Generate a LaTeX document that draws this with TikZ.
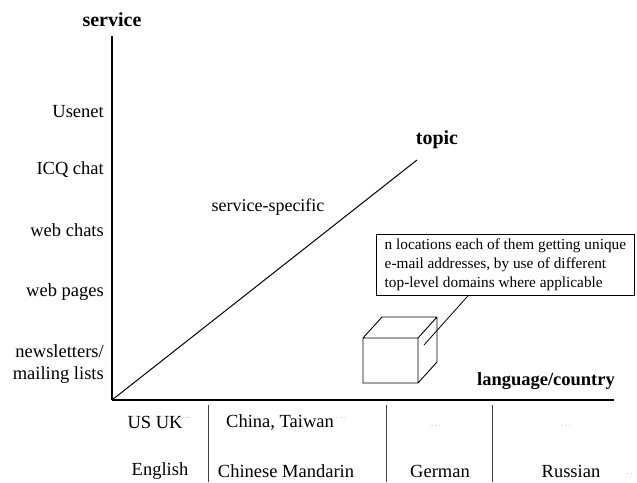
\documentclass[tikz,border=0pt]{standalone}
\usepackage{fontspec}
\setmainfont{Liberation Serif}
\begin{document}
\begin{tikzpicture}[x=1pt,y=-1pt,
  axlab/.style={font=\fontsize{20}{22}\selectfont\bfseries, inner sep=0pt},
  lab/.style={font=\fontsize{18.5}{22}\selectfont, inner sep=0pt},
  notelab/.style={font=\fontsize{15.3}{19}\selectfont, inner sep=0pt},
  faint/.style={font=\fontsize{7}{8}\selectfont, text=black!45, inner sep=0pt},
  divider/.style={black!75, line width=0.9pt},
  axis/.style={line width=1.3pt}]
\useasboundingbox (0,0) rectangle (637,482);
% axes
\coordinate (O) at (112,400);
\coordinate (ytop) at (112,36);
\coordinate (xend) at (614,400);
\coordinate (zend) at (417,160);
\draw[axis] (O) -- (ytop);
\draw[line width=1.6pt] (O) -- (xend);
\draw[line width=1pt] (O) -- (zend);
\node[axlab] (service) at (112,20) {service};
\node[axlab] (topic) at (437,140) {topic};
\node[axlab, font=\fontsize{18.5}{22}\selectfont\bfseries] (lang) at (546,381) {language/country};
% service labels
\node[lab, anchor=east] (usenet) at (104,112) {Usenet};
\node[lab, anchor=east] (icq) at (104,170) {ICQ chat};
\node[lab, anchor=east] (webchats) at (104,230) {web chats};
\node[lab, anchor=east] (webpages) at (104,292) {web pages};
\node[lab, anchor=east, align=right] (news) at (104,364) {newsletters/\\mailing lists};
\node[lab, font=\fontsize{18}{22}\selectfont] (svcspec) at (268,207) {service-specific};
% note box
\node[draw, line width=0.8pt, notelab, anchor=north west, minimum width=258pt, minimum height=61pt,
      inner xsep=7pt, align=left] (note) at (376,234)
  {n locations each of them getting unique\\e-mail addresses, by use of different\\top-level domains where applicable};
% cube
\coordinate (f1) at (363,338);
\coordinate (f2) at (418,338);
\coordinate (f3) at (418,383);
\coordinate (f4) at (363,383);
\coordinate (b1) at (382,317);
\coordinate (b2) at (437,317);
\coordinate (b3) at (437,362);
\draw[line width=0.9pt, line join=round] (f1) -- (f2) -- (f3) -- (f4) -- cycle
  (f1) -- (b1) -- (b2) -- (f2) (b2) -- (b3) -- (f3);
\coordinate (cubept) at (424,345);
\draw[line width=0.8pt] ([xshift=92pt]note.south west) -- (cubept);
% bottom table
\node[lab] (usuk) at (155,422) {US UK};
\node[faint, anchor=west] (usukd) at ([yshift=4pt]usuk.east) {....};
\node[lab] (china) at (280,422) {China, Taiwan};
\node[faint, anchor=west] (chinad) at ([xshift=2pt,yshift=4pt]china.east) {. . .};
\node[faint] (gerd) at (436,426) {. . .};
\node[faint] (rusd) at (566,426) {. . .};
\node[lab] (english) at (160,471) {English};
\node[lab] (mandarin) at (286,471) {Chinese Mandarin};
\node[lab] (german) at (440,471) {German};
\node[lab] (russian) at (571,471) {Russian};
\node[faint] (rusdd) at (630,474) {. .};
\coordinate (d1t) at (208,405); \coordinate (d1b) at (208,482);
\coordinate (d2t) at (386,405); \coordinate (d2b) at (386,482);
\coordinate (d3t) at (492,405); \coordinate (d3b) at (492,482);
\draw[divider] (d1t) -- (d1b);
\draw[divider] (d2t) -- (d2b);
\draw[divider] (d3t) -- (d3b);
\end{tikzpicture}
\end{document}
